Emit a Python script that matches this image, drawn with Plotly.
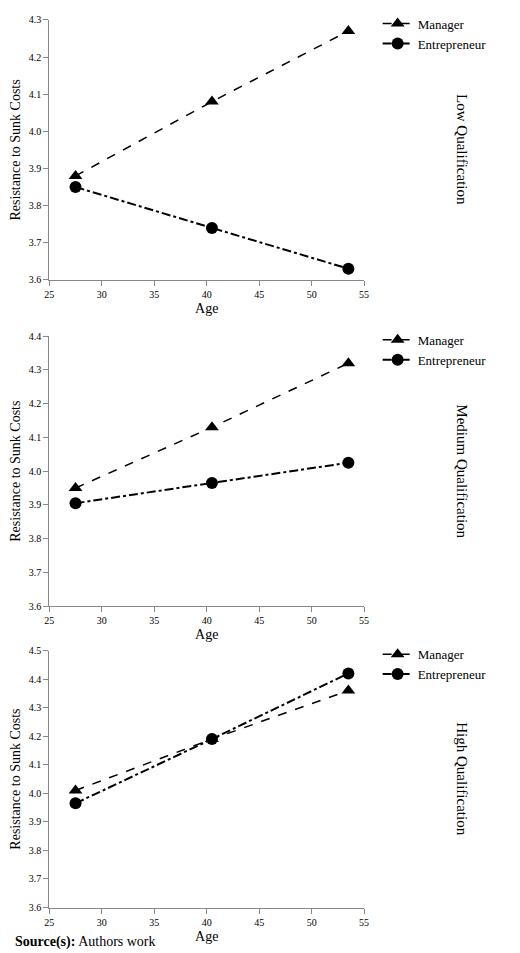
import plotly.graph_objects as go

ages = [27.5, 40.5, 53.5]
panels = ["Low Qualification", "Medium Qualification", "High Qualification"]
manager = [[3.88, 4.08, 4.27], [3.95, 4.13, 4.32], [4.01, 4.19, 4.36]]
entrepreneur = [[3.85, 3.74, 3.63], [3.905, 3.965, 4.025], [3.965, 4.19, 4.42]]
y_max = [4.3, 4.4, 4.5]

W, H = 520, 953
# pixel spans of each panel (top, bottom)
spans = [(7, 270), (327, 600), (645, 905)]
x_dom = [37 / W, 358 / W]
font = dict(family="Liberation Serif", size=13, color="black")

fig = go.Figure()
layout = dict(width=W, height=H, margin=dict(l=0, r=0, t=0, b=0),
              plot_bgcolor="white", paper_bgcolor="white", font=font)
annotations = []
for i, name in enumerate(panels):
    n = "" if i == 0 else str(i + 1)
    lg = "legend" + n
    top, bot = spans[i]
    ydom = [1 - bot / H, 1 - top / H]
    fig.add_trace(go.Scatter(x=ages, y=manager[i], name="Manager", mode="lines+markers",
                             line=dict(color="black", dash="dash", width=1.5),
                             marker=dict(symbol="triangle-up", size=12, color="black"),
                             xaxis="x" + n, yaxis="y" + n, legend=lg))
    fig.add_trace(go.Scatter(x=ages, y=entrepreneur[i], name="Entrepreneur", mode="lines+markers",
                             line=dict(color="black", dash="dashdot", width=2),
                             marker=dict(symbol="circle", size=12, color="black"),
                             xaxis="x" + n, yaxis="y" + n, legend=lg))
    ax = dict(showline=True, linecolor="#888", ticks="outside", tickcolor="#888",
              showgrid=False, zeroline=False, tickfont=dict(size=10))
    layout["xaxis" + n] = dict(ax, domain=x_dom, range=[25, 55], dtick=5,
                               anchor="y" + n, title=dict(text="Age", font=dict(size=14), standoff=4))
    layout["yaxis" + n] = dict(ax, domain=ydom, range=[3.6, y_max[i]], dtick=0.1,
                               tickformat=".1f", anchor="x" + n,
                               title=dict(text="Resistance to Sunk Costs", font=dict(size=14), standoff=4))
    layout[lg] = dict(x=0.715, y=ydom[1] + 0.012, xanchor="left", yanchor="top",
                      bgcolor="rgba(0,0,0,0)", font=dict(size=13), tracegroupgap=0)
    annotations.append(dict(text=name, x=0.88, y=(ydom[0] + ydom[1]) / 2, xref="paper", yref="paper",
                            xanchor="center", yanchor="middle",
                            textangle=90, showarrow=False, font=dict(size=15)))
annotations.append(dict(text="<b>Source(s):</b> Authors work", x=0, y=0.003, xref="paper", yref="paper",
                        xanchor="left", yanchor="bottom", showarrow=False, font=dict(size=14)))
layout["annotations"] = annotations
fig.update_layout(**layout)
fig.write_html("out.html")
